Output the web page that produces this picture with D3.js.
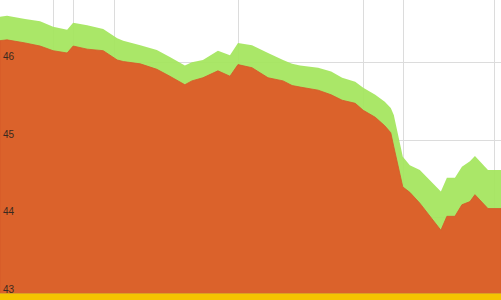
<!DOCTYPE html>
<html lang="en">
    <head>
        <meta charset="utf-8">
        <title>area chart</title>
        <script type="text/javascript" src="https://cdn.jsdelivr.net/npm/d3@7"></script>
        <style>
        body{
            margin:0;
            background-color:white;
        }
        svg{
            display:block;
        }
        .ylabel{
            font-family:"Liberation Sans", Arial, sans-serif;
            font-size:10px;
            fill:#3a2a20;
        }
        </style>
    </head>
    <body>
        <script type="text/javascript">

        // day of each sample
        var days = [0, 1.4, 5, 8, 10.6, 13.4, 14.6, 17.4, 20.6, 23.4, 24.6, 28, 31.3, 33.9, 36.9, 38.3,
                    40.5, 43.5, 45.9, 47.5, 50.3, 53.5, 56.5, 58.3, 59.9, 63.5, 66.1, 68.3, 70.9, 72.5,
                    74.9, 76.8, 78, 78.6, 80.4, 81.8, 83.8, 88, 89.2, 90.8, 92.2, 93.8, 94.8, 97.4, 100];

        // lower series (orange)
        var lowValues = [46.28, 46.29, 46.25, 46.21, 46.15, 46.12, 46.21, 46.17, 46.15, 46.03, 46.01, 45.98, 45.91, 45.82, 45.71, 45.76,
                         45.80, 45.89, 45.82, 45.97, 45.93, 45.80, 45.76, 45.70, 45.68, 45.64, 45.58, 45.51, 45.47, 45.38,
                         45.29, 45.18, 45.09, 44.91, 44.39, 44.32, 44.18, 43.83, 44.01, 44.01, 44.16, 44.20, 44.29, 44.11, 44.11];

        // upper series (green)
        var highValues = [46.59, 46.60, 46.56, 46.53, 46.46, 46.42, 46.51, 46.48, 46.43, 46.31, 46.28, 46.22, 46.16, 46.07, 45.96, 46.00,
                          46.03, 46.15, 46.09, 46.25, 46.22, 46.12, 46.03, 45.98, 45.96, 45.93, 45.88, 45.80, 45.75, 45.67,
                          45.58, 45.49, 45.41, 45.32, 44.78, 44.67, 44.61, 44.33, 44.51, 44.51, 44.65, 44.72, 44.79, 44.61, 44.61];

        var yTicks = [43, 44, 45, 46];
        var gridDays = [10.6, 14.6, 22.8, 47.5, 72.5, 80.4, 98.6];

        var w = 501;
        var h = 300;

        var data = days.map(function(d, i){
            return {day: d, low: lowValues[i], high: highValues[i]};
        });

        var svg = d3.select("body")
                    .append("svg")
                    .attr("width", w)
                    .attr("height", h);

        var x = d3.scaleLinear().domain([0, 100]).range([0, w]);
        var y = d3.scaleLinear().domain([43, 46]).range([294.5, 62.3]);

        //grid first, the areas are a bit see-through so it shows faintly
        svg.append("g")
           .selectAll("line.h")
           .data(yTicks)
           .enter()
           .append("line")
           .attr("x1", 0)
           .attr("x2", w)
           .attr("y1", function(d){ return Math.round(y(d)) + 0.5; })
           .attr("y2", function(d){ return Math.round(y(d)) + 0.5; })
           .attr("stroke", "#dcdcdc");

        svg.append("g")
           .selectAll("line.v")
           .data(gridDays)
           .enter()
           .append("line")
           .attr("x1", function(d){ return Math.round(x(d)) + 0.5; })
           .attr("x2", function(d){ return Math.round(x(d)) + 0.5; })
           .attr("y1", 0)
           .attr("y2", y(43))
           .attr("stroke", "#dcdcdc");

        //green band up to the high values
        svg.append("path")
           .datum(data)
           .attr("fill", "#a5e65f")
           .attr("fill-opacity", 0.94)
           .attr("d", d3.area()
                .x(function(d){ return x(d.day); })
                .y0(y(43))
                .y1(function(d){ return y(d.high); }));

        //orange area under the low values
        svg.append("path")
           .datum(data)
           .attr("fill", "#dd5d29")
           .attr("fill-opacity", 0.96)
           .attr("stroke", "#d5582a")
           .attr("stroke-width", 0.8)
           .attr("d", d3.area()
                .x(function(d){ return x(d.day); })
                .y0(y(43))
                .y1(function(d){ return y(d.low); }));

        //y labels sit inside the plot just above each line
        svg.append("g")
           .selectAll("text")
           .data(yTicks)
           .enter()
           .append("text")
           .attr("class", "ylabel")
           .attr("x", 3)
           .attr("y", function(d){ return y(d) - 2; })
           .text(function(d){ return d; });

        //yellow strip at the bottom
        svg.append("rect")
           .attr("x", 0)
           .attr("y", y(43) - 1.5)
           .attr("width", w)
           .attr("height", h - y(43) + 1.5)
           .attr("fill", "#f5c400");

        svg.append("line")
           .attr("x1", 0)
           .attr("x2", w)
           .attr("y1", y(43) - 1)
           .attr("y2", y(43) - 1)
           .attr("stroke", "#c98a3a")
           .attr("stroke-opacity", 0.6);
        </script>
    </body>
</html>
